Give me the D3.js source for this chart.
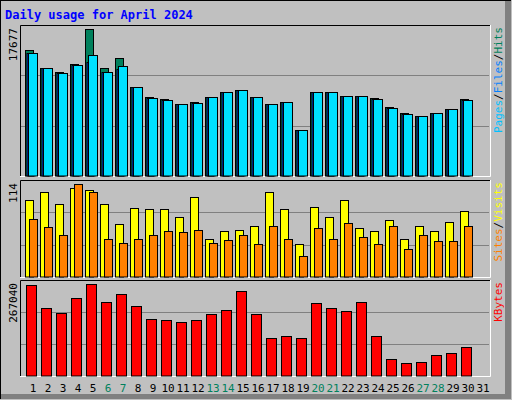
<!DOCTYPE html><html><head><script src="https://cdn.jsdelivr.net/npm/d3@7"></script>
<style>body{margin:0;background:#fff}</style></head><body><svg id="c" width="512" height="400"></svg>
<script>
const days=d3.range(1,32);
const weekend=[6,7,13,14,20,21,27,28];
const hits=[15150,12950,12470,13470,17677,12950,14150,10660,9460,9220,8620,8860,9460,10100,10300,9460,8620,8860,5490,10100,10100,9580,9580,9340,8260,7540,7180,7540,8020,9220];
const files=[14790,12950,12350,13310,14510,12470,13190,10660,9340,9100,8620,8740,9460,10100,10300,9460,8620,8860,5490,10100,10100,9580,9580,9220,8140,7420,7180,7540,8020,9100];
const pages=[14790,12950,12350,13310,13710,12470,12870,10660,9340,9100,8620,8740,9460,10100,10300,9460,8620,8860,5490,10100,10100,9580,9580,9220,8140,7420,7180,7540,8020,9100];
const visits=[94,104,89,109,107,89,65,84,83,83,73,98,47,57,58,62,104,83,40,86,74,94,60,57,70,47,62,57,68,81];
const sites=[71,61,52,114,104,47,42,47,52,57,55,58,42,45,51,40,63,46,26,60,47,66,49,40,63,34,52,44,44,63];
const kbytes=[264000,196700,182100,226000,267040,214300,237700,202600,164600,161700,155800,161700,179200,190900,246400,179200,109100,114900,109100,211400,196700,188000,214300,114900,50600,39000,41900,62300,68200,82800];
const svg=d3.select("#c");
const F="'DejaVu Sans Mono',monospace";
svg.append("rect").attr("width",512).attr("height",400).attr("fill","#c0c0c0");
svg.append("rect").attr("x",0.5).attr("y",0.5).attr("width",510).attr("height",398).attr("fill","none").attr("stroke","#000");
svg.append("rect").attr("x",505).attr("y",1).attr("width",6).attr("height",398).attr("fill","#808080");
svg.append("rect").attr("x",1).attr("y",394).attr("width",510).attr("height",5).attr("fill","#808080");
svg.append("text").attr("x",5).attr("y",19).attr("font-family",F).attr("font-weight","bold").attr("font-size",12).attr("fill","#0000ff").text("Daily usage for April 2024");
const x=d3.scaleLinear().domain([1,32]).range([25,490]);
function panel(top,bot,maxY,maxV,label,legend){
  svg.append("rect").attr("x",20).attr("y",top).attr("width",470).attr("height",bot-top).attr("fill","#c0c0c0");
  const y=d3.scaleLinear().domain([0,maxV]).range([bot,maxY]);
  [1,2].forEach(i=>{const gy=Math.round(top+(bot-top)*i/3)+0.5;svg.append("line").attr("x1",21).attr("x2",489).attr("y1",gy).attr("y2",gy).attr("stroke","#808080");});
  svg.append("path").attr("d",`M20.5,${bot}V${top+0.5}H490`).attr("fill","none").attr("stroke","#000");
  svg.append("path").attr("d",`M20,${bot+0.5}H490.5V${top}`).attr("fill","none").attr("stroke","#fff");
  svg.append("text").attr("transform",`translate(${17},${top+3}) rotate(-90)`).attr("text-anchor","end").attr("font-family",F).attr("font-size",11).attr("fill","#000").text(label);
  const t=svg.append("text").attr("transform",`translate(${502},${top+2}) rotate(-90)`).attr("text-anchor","end").attr("font-family",F).attr("font-size",11);
  legend.forEach(([s,c],i)=>{ if(i) t.append("tspan").attr("fill","#000").text("/"); t.append("tspan").attr("fill",c).text(s);});
  return y;
}
function bars(data,y,dx,w,color){
  svg.append("g").selectAll("rect").data(data).join("rect")
   .attr("x",(d,i)=>x(i+1)+dx+0.5).attr("y",d=>Math.round(y(d))+0.5).attr("width",w).attr("height",d=>y(0)-Math.round(y(d))-0.5)
   .attr("fill",color).attr("stroke","#000");
}
const y1=panel(25,176,29,17677,"17677",[["Pages","#00c0ff"],["Files","#0080ff"],["Hits","#00805c"]]);
bars(hits,y1,0,8,"#00805c");bars(pages,y1,1.5,8,"#0040ff");bars(files,y1,3,9,"#00e0ff");
const y2=panel(180,277,184,114,"114",[["Sites","#ff8000"],["Visits","#ffff00"]]);
bars(visits,y2,0,8,"#ffff00");bars(sites,y2,4,8,"#ff8000");
const y3=panel(280,376,284,267040,"267040",[["KBytes","#ff0000"]]);
bars(kbytes,y3,1,10,"#ff0000");
svg.append("g").selectAll("text").data(days).join("text").attr("x",d=>x(d)+8).attr("y",392).attr("text-anchor","middle")
 .attr("font-family",F).attr("font-size",11).attr("fill",d=>weekend.includes(d)?"#00805c":"#000").text(d=>d);
</script></body></html>
